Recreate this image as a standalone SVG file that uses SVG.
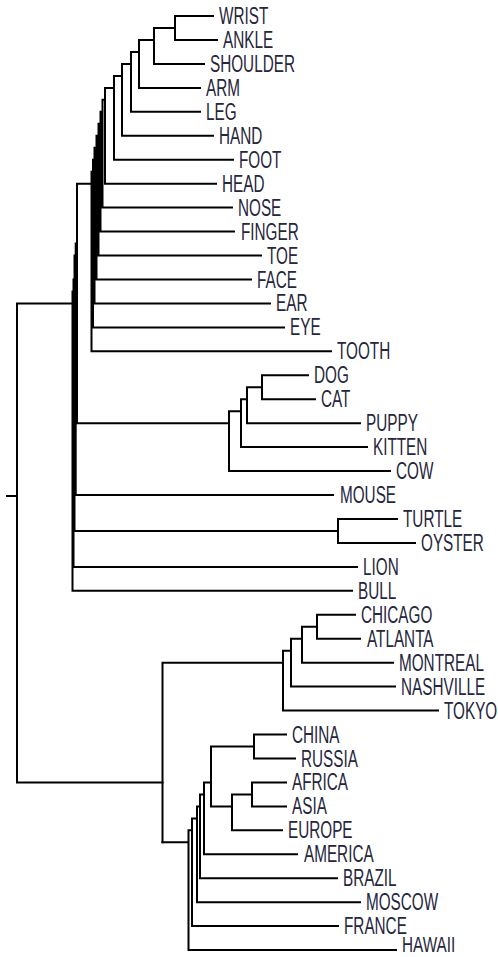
<svg xmlns="http://www.w3.org/2000/svg" width="498" height="957" viewBox="0 0 498 957">
<style>
.c{fill:none;stroke:#000;stroke-width:2;stroke-linecap:square}
text{font-family:"Liberation Sans",Arial,sans-serif;font-size:15.3px;fill:#26263c}
</style>
<rect width="498" height="957" fill="#fff"/>
<g id="connectors" class="c">
<path d="M7,496H17M17,303.4V782.4M17,303.4H72.5M17,782.4H162.5"/>
<!-- body parts -->
<path d="M175,16V40M175,16H213M175,40H217M154,28H175M154,28V63.9M154,63.9H204M139,40H154M139,40V87.9M139,87.9H200M131,51.9H139M131,51.9V111.8M131,111.8H200M122,63.9H131M122,63.9V135.8M122,135.8H213M114,75.9H122M114,75.9V159.7M114,159.7H233"/>
<path d="M105,87.9H114M105,87.9V183.7M105,183.7H216M102.5,99.8H105M102.5,99.8V207.6M102.5,207.6H232M100.5,111.8H102.5M100.5,111.8V231.6M100.5,231.6H234M98.5,123.8H100.5M98.5,123.8V255.5M98.5,255.5H261M96.5,135.8H98.5M96.5,135.8V279.5M96.5,279.5H251M94.5,147.7H96.5M94.5,147.7V303.4M94.5,303.4H270M93,159.7H94.5M93,159.7V327.4M93,327.4H284M91.5,171.7H93M91.5,171.7V351.3M91.5,351.3H331"/>
<!-- animals -->
<path d="M77,183.7H91.5M77,183.7V423.2M262,375.3V399.2M262,375.3H308M262,399.2H315M247,387.3H262M247,387.3V423.2M247,423.2H360M241,399.2H247M241,399.2V447.1M241,447.1H367M229,411.2H241M229,411.2V471.1M229,471.1H390M77,423.2H229"/>
<path d="M75.7,243.5H77M75.7,243.5V495M75.7,495H333M74.5,255.5H75.7M74.5,255.5V530.9M74.5,530.9H338M338,519V542.9M338,519H397M338,542.9H415M73.5,279.5H74.5M73.5,279.5V566.9M73.5,566.9H357M72.5,291.4H73.5M72.5,291.4V590.8M72.5,590.8H352"/>
<!-- cities -->
<path d="M317,614.8V638.7M317,614.8H355M317,638.7H360M302,626.7H317M302,626.7V662.7M302,662.7H393M291,638.7H302M291,638.7V686.6M291,686.6H395M283,650.7H291M283,650.7V710.6M283,710.6H438M162.5,662.7H283M162.5,662.7V842.3"/>
<!-- countries -->
<path d="M254,734.5V758.5M254,734.5H286M254,758.5H295M252,782.4V806.4M252,782.4H286M252,806.4H286M232,794.4H252M232,794.4V830.3M232,830.3H282M211,746.5H254M211,746.5V806.4M211,806.4H232M204,782.4H211M204,782.4V854.3M204,854.3H297M200,794.4H204M200,794.4V878.2M200,878.2H337M197,806.4H200M197,806.4V902.2M197,902.2H360M192,818.4H197M192,818.4V926.1M192,926.1H338M188.5,830.3H192M188.5,830.3V950.1M188.5,950.1H396M162.5,842.3H188.5"/>
</g>
<g id="WRIST"><text transform="translate(219,24) scale(1,1.55)">WRIST</text></g>
<g id="ANKLE"><text transform="translate(223,48) scale(1,1.55)">ANKLE</text></g>
<g id="SHOULDER"><text transform="translate(210,71.9) scale(1,1.55)">SHOULDER</text></g>
<g id="ARM"><text transform="translate(206,95.9) scale(1,1.55)">ARM</text></g>
<g id="LEG"><text transform="translate(206,119.8) scale(1,1.55)">LEG</text></g>
<g id="HAND"><text transform="translate(219,143.8) scale(1,1.55)">HAND</text></g>
<g id="FOOT"><text transform="translate(239,167.7) scale(1,1.55)">FOOT</text></g>
<g id="HEAD"><text transform="translate(222,191.7) scale(1,1.55)">HEAD</text></g>
<g id="NOSE"><text transform="translate(238,215.6) scale(1,1.55)">NOSE</text></g>
<g id="FINGER"><text transform="translate(241,239.6) scale(1,1.55)">FINGER</text></g>
<g id="TOE"><text transform="translate(267,263.5) scale(1,1.55)">TOE</text></g>
<g id="FACE"><text transform="translate(257,287.5) scale(1,1.55)">FACE</text></g>
<g id="EAR"><text transform="translate(276,311.4) scale(1,1.55)">EAR</text></g>
<g id="EYE"><text transform="translate(290,335.4) scale(1,1.55)">EYE</text></g>
<g id="TOOTH"><text transform="translate(337,359.3) scale(1,1.55)">TOOTH</text></g>
<g id="DOG"><text transform="translate(314,383.3) scale(1,1.55)">DOG</text></g>
<g id="CAT"><text transform="translate(321,407.2) scale(1,1.55)">CAT</text></g>
<g id="PUPPY"><text transform="translate(366,431.2) scale(1,1.55)">PUPPY</text></g>
<g id="KITTEN"><text transform="translate(373,455.1) scale(1,1.55)">KITTEN</text></g>
<g id="COW"><text transform="translate(396,479.1) scale(1,1.55)">COW</text></g>
<g id="MOUSE"><text transform="translate(340,503) scale(1,1.55)">MOUSE</text></g>
<g id="TURTLE"><text transform="translate(403,527) scale(1,1.55)">TURTLE</text></g>
<g id="OYSTER"><text transform="translate(421,550.9) scale(1,1.55)">OYSTER</text></g>
<g id="LION"><text transform="translate(363,574.9) scale(1,1.55)">LION</text></g>
<g id="BULL"><text transform="translate(358,598.8) scale(1,1.55)">BULL</text></g>
<g id="CHICAGO"><text transform="translate(361,622.8) scale(1,1.55)">CHICAGO</text></g>
<g id="ATLANTA"><text transform="translate(367,646.7) scale(1,1.55)">ATLANTA</text></g>
<g id="MONTREAL"><text transform="translate(399,670.7) scale(1,1.55)">MONTREAL</text></g>
<g id="NASHVILLE"><text transform="translate(401,694.6) scale(1,1.55)">NASHVILLE</text></g>
<g id="TOKYO"><text transform="translate(444,718.6) scale(1,1.55)">TOKYO</text></g>
<g id="CHINA"><text transform="translate(292,742.5) scale(1,1.55)">CHINA</text></g>
<g id="RUSSIA"><text transform="translate(301,766.5) scale(1,1.55)">RUSSIA</text></g>
<g id="AFRICA"><text transform="translate(292,790.4) scale(1,1.55)">AFRICA</text></g>
<g id="ASIA"><text transform="translate(292,814.4) scale(1,1.55)">ASIA</text></g>
<g id="EUROPE"><text transform="translate(288,838.3) scale(1,1.55)">EUROPE</text></g>
<g id="AMERICA"><text transform="translate(304,862.3) scale(1,1.55)">AMERICA</text></g>
<g id="BRAZIL"><text transform="translate(343,886.2) scale(1,1.55)">BRAZIL</text></g>
<g id="MOSCOW"><text transform="translate(366,910.2) scale(1,1.55)">MOSCOW</text></g>
<g id="FRANCE"><text transform="translate(344,934.1) scale(1,1.55)">FRANCE</text></g>
<g id="HAWAII"><text transform="translate(402,951.8) scale(1,1.42)">HAWAII</text></g>
</svg>
